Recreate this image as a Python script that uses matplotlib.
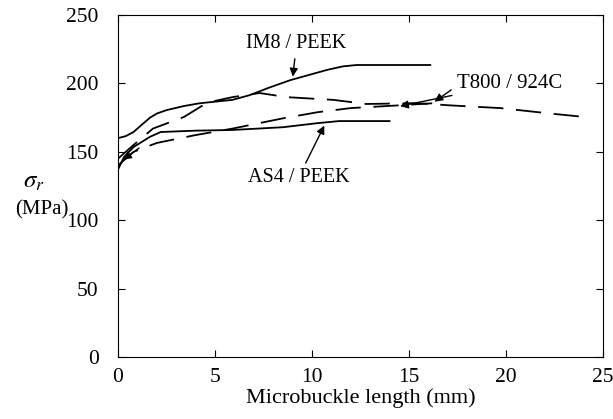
import matplotlib.pyplot as plt

plt.rcParams['font.family'] = 'Liberation Serif'
plt.rcParams['mathtext.fontset'] = 'stix'

# IM8 / PEEK (solid, upper)
im8_x = [0, 0.4, 0.8, 1.2, 1.65, 2.0, 2.5, 3.4, 4.2, 5.9, 6.8, 7.8, 8.9, 10.8, 11.6, 12.3, 14.5, 16.1]
im8_y = [160, 161.5, 164.5, 169.5, 175, 178, 180.5, 183.5, 185.5, 188, 191.5, 197, 202.5, 210, 212.5, 213.5, 213.5, 213.5]

# AS4 / PEEK (solid, lower)
as4_x = [0, 0.3, 0.8, 1.65, 2.2, 4.0, 5.9, 8.5, 10.3, 11.4, 14.0]
as4_y = [137, 146, 153.5, 161, 164.5, 165.5, 166, 168, 171, 172.5, 172.5]

# T800 / 924C (dashed, two curves)
t800a_x = [0, 0.8, 1.8, 3.4, 4.6, 5.9, 7.3, 8.7, 11.1, 12.8, 15.4, 17.1, 19.7, 22.3, 24.4]
t800a_y = [145, 155, 167, 175.5, 186, 190, 193, 190, 188, 185, 185.6, 184, 182, 178, 175]
t800b_x = [0, 0.8, 2.0, 3.9, 5.9, 8.5, 10.3, 12.0, 14.5, 16.2]
t800b_y = [140, 150, 156.5, 162, 167, 174.5, 179, 182, 184, 185.5]

fig = plt.figure(figsize=(6.13, 4.19), dpi=100)
ax = fig.add_axes([0.1925, 0.148, 0.791, 0.816])

ax.plot(im8_x, im8_y, color='black', lw=1.3)
ax.plot(as4_x, as4_y, color='black', lw=1.3)
ax.plot(t800a_x, t800a_y, color='black', lw=1.3, dashes=(14, 7))
ax.plot(t800b_x, t800b_y, color='black', lw=1.3, dashes=(14, 7))

arrow = dict(arrowstyle='-|>', color='black', lw=1.0, mutation_scale=12)
ax.annotate('IM8 / PEEK', xy=(9.0, 203), xytext=(9.2, 229), fontsize=14.5,
            ha='center', va='center', arrowprops=arrow)
ax.annotate('AS4 / PEEK', xy=(10.7, 171), xytext=(9.3, 131), fontsize=14.5,
            ha='center', va='center', arrowprops=arrow)
ax.annotate('T800 / 924C', xy=(14.4, 183), xytext=(17.5, 200), fontsize=15,
            ha='left', va='center', arrowprops=arrow)
ax.annotate('', xy=(16.2, 185.5), xytext=(17.3, 196.5), arrowprops=arrow)
ax.annotate('', xy=(0.15, 143), xytext=(1.2, 154), arrowprops=arrow)

ax.set_xlim(0, 25)
ax.set_ylim(0, 250)
ax.set_xticks([0, 5, 10, 15, 20, 25])
ax.set_yticks([0, 50, 100, 150, 200, 250])
ax.tick_params(direction='in', top=True, right=True, length=5, labelsize=15.5)
ax.tick_params(axis='y', pad=14)
ax.tick_params(axis='x', pad=8)
ax.set_xlabel('Microbuckle length (mm)', fontsize=16, labelpad=1)

fig.text(0.055, 0.565, r'$\sigma_r$', fontsize=18, ha='center', va='center')
fig.text(0.068, 0.498, '(MPa)', fontsize=15, ha='center', va='center')

plt.savefig('out.png', dpi=100)
